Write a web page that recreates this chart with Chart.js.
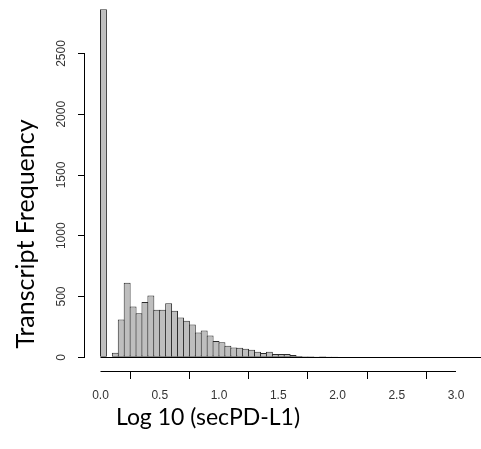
<!DOCTYPE html>
<html>
<head>
<meta charset="utf-8">
<script src="https://cdn.jsdelivr.net/npm/chart.js@4.4.0/dist/chart.umd.min.js"></script>
<style>
  html, body { margin: 0; padding: 0; background: #fff; }
  #wrap { width: 481px; height: 449px; }
</style>
</head>
<body>
<div id="wrap"><canvas id="histChart"></canvas></div>
<script>
// histogram of log10(secPD-L1), bins of 0.05
const binWidth = 0.05;
const counts = [
  2863, 0, 37, 311, 614, 418, 363, 454, 508, 392,
  392, 445, 383, 328, 301, 269, 205, 221, 179, 134,
  124, 96, 80, 78, 70, 63, 45, 35, 46, 28,
  27, 27, 19, 10, 9, 8, 2, 8, 1, 7,
  0, 0, 0, 0, 0, 0, 0, 0, 0, 0,
  0, 0, 0, 0, 0, 0, 0, 0, 0, 0,
  0, 0, 0, 0, 0
];
const xTicks = [0, 0.5, 1, 1.5, 2, 2.5, 3];
const yTicks = [0, 500, 1000, 1500, 2000, 2500];
const xTitle = 'Log 10 (secPD-L1)';
const yTitle = 'Transcript Frequency';

const points = counts.map((c, i) => ({ x: (i + 0.5) * binWidth, y: c }));

// R style axes: lines only over the tick range, baseline under the bins, titles
const rAxes = {
  id: 'rAxes',
  afterDatasetsDraw(chart) {
    const { ctx, chartArea, scales: { x, y } } = chart;
    ctx.save();
    ctx.strokeStyle = '#000';
    ctx.lineWidth = 1;
    ctx.beginPath();
    // bin baseline
    const y0 = Math.round(y.getPixelForValue(0)) + 0.5;
    ctx.moveTo(x.getPixelForValue(0), y0);
    ctx.lineTo(chartArea.right, y0);
    // y axis
    ctx.moveTo(chartArea.left - 0.5, y.getPixelForValue(yTicks[0]));
    ctx.lineTo(chartArea.left - 0.5, y.getPixelForValue(yTicks[yTicks.length - 1]));
    // x axis
    ctx.moveTo(x.getPixelForValue(xTicks[0]), chartArea.bottom - 0.5);
    ctx.lineTo(x.getPixelForValue(xTicks[xTicks.length - 1]), chartArea.bottom - 0.5);
    ctx.stroke();

    ctx.fillStyle = '#000';
    ctx.textAlign = 'center';
    ctx.textBaseline = 'middle';
    ctx.font = '23px Lato';
    ctx.fillText(xTitle, 208, 418);
    ctx.font = '25px Lato';
    ctx.translate(26, 234);
    ctx.rotate(-Math.PI / 2);
    ctx.fillText(yTitle, 0, 0);
    ctx.restore();
  }
};

new Chart(document.getElementById('histChart'), {
  type: 'bar',
  data: {
    datasets: [{
      data: points,
      backgroundColor: '#bebebe',
      borderColor: '#2b2b2b',
      borderWidth: 1,
      borderSkipped: false,
      inflateAmount: 0,
      barPercentage: 1.17,
      categoryPercentage: 1
    }]
  },
  options: {
    responsive: true,
    maintainAspectRatio: false,
    animation: false,
    layout: { padding: 0, autoPadding: false },
    plugins: { legend: { display: false }, tooltip: { enabled: false } },
    scales: {
      x: {
        type: 'linear',
        min: -0.1308,
        max: 3.2109,
        offset: false,
        border: { display: false },
        grid: { drawOnChartArea: false, drawTicks: true, tickLength: 7, color: '#000' },
        afterBuildTicks(scale) {
          scale.ticks = xTicks.map(v => ({ value: v }));
        },
        ticks: {
          padding: 9,
          color: '#333',
          font: { family: 'Liberation Sans', size: 12 },
          maxRotation: 0,
          autoSkip: false,
          callback: (v) => v.toFixed(1)
        },
        afterFit(scale) {
          scale.height = 77;
          scale.paddingLeft = 0;
          scale.paddingRight = 0;
        }
      },
      y: {
        min: -121,
        max: 2940,
        border: { display: false },
        grid: { drawOnChartArea: false, drawTicks: true, tickLength: 7, color: '#000' },
        afterBuildTicks(scale) {
          scale.ticks = yTicks.map(v => ({ value: v }));
        },
        ticks: {
          padding: 3,
          crossAlign: 'center',
          minRotation: 90,
          maxRotation: 90,
          autoSkip: false,
          color: '#333',
          font: { family: 'Liberation Sans', size: 12 },
          callback: (v) => String(v)
        },
        afterFit(scale) {
          scale.width = 85;
          scale.paddingTop = 0;
          scale.paddingBottom = 0;
        }
      }
    }
  },
  plugins: [rAxes]
});
</script>
</body>
</html>
